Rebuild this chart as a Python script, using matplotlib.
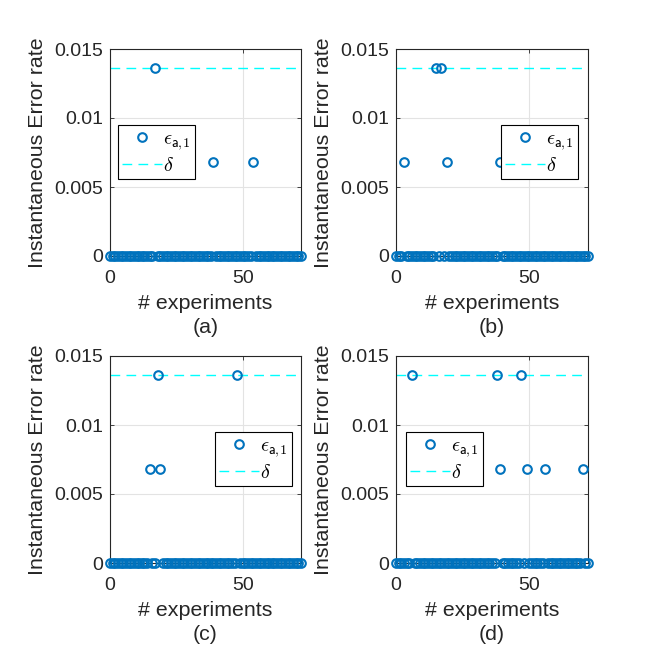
import numpy as np
import matplotlib
matplotlib.use('Agg')
import matplotlib.pyplot as plt

plt.rcParams['font.family'] = ['Liberation Sans', 'DejaVu Sans']
plt.rcParams['mathtext.fontset'] = 'cm'

# Experiment index (x values) and threshold
n_experiments = 72
delta = 0.0136

# Nonzero error rates; all other experiments are 0
a_idx = [17, 39, 54]
a_val = [0.0136, 0.0068, 0.0068]
b_idx = [3, 15, 17, 19, 39]
b_val = [0.0068, 0.0136, 0.0136, 0.0068, 0.0068]
c_idx = [15, 18, 19, 48]
c_val = [0.0068, 0.0136, 0.0068, 0.0136]
d_idx = [6, 38, 39, 47, 49, 56, 70]
d_val = [0.0136, 0.0136, 0.0068, 0.0136, 0.0068, 0.0068, 0.0068]

panels = [
    ('(a)', a_idx, a_val, (0.042, 0.633)),
    ('(b)', b_idx, b_val, (0.547, 0.633)),
    ('(c)', c_idx, c_val, (0.550, 0.633)),
    ('(d)', d_idx, d_val, (0.052, 0.633)),
]

W, H = 651, 649
fig = plt.figure(figsize=(W / 100, H / 100), dpi=100)
positions = [
    (110 / W, 1 - 256 / H, 191 / W, 207 / H),
    (396 / W, 1 - 256 / H, 192 / W, 207 / H),
    (110 / W, 1 - 563 / H, 191 / W, 207 / H),
    (396 / W, 1 - 563 / H, 192 / W, 207 / H),
]

text_color = '#262626'
blue = '#0072BD'

for (tag, idx, val, leg_pos), pos in zip(panels, positions):
    ax = fig.add_axes(pos)
    x = np.arange(0, n_experiments + 1)
    y = np.zeros(len(x))
    y[idx] = val

    ax.plot(x, y, 'o', linestyle='none', markerfacecolor='none',
            markeredgecolor=blue, markersize=6.2, markeredgewidth=1.5,
            clip_on=False, zorder=3, label=r'$\epsilon_{\mathsf{a,\!1}}$')
    ax.axhline(delta, color='#00FFFF', linewidth=1.0, dashes=(7, 4.5),
               zorder=2, label=r'$\delta$')

    ax.set_xlim(0, n_experiments)
    ax.set_ylim(0, 0.015)
    ax.set_xticks([0, 50])
    ax.set_yticks([0, 0.005, 0.01, 0.015])
    ax.set_yticklabels(['0', '0.005', '0.01', '0.015'])
    ax.grid(True, color='#e3e3e3', linewidth=0.8)
    ax.set_axisbelow(True)
    ax.tick_params(direction='in', length=3, width=0.6, labelsize=14,
                   colors=text_color, top=True, right=True)
    ax.tick_params(axis='x', pad=10)
    ax.tick_params(axis='y', pad=5)
    for sp in ax.spines.values():
        sp.set_color(text_color)
        sp.set_linewidth(0.8)

    ax.set_xlabel('# experiments\n' + tag, fontsize=15.4, color=text_color,
                  labelpad=5, linespacing=1.35)
    ax.set_ylabel('Instantaneous Error rate', fontsize=15.4, color=text_color,
                  labelpad=5)

    leg = ax.legend(loc='upper left', bbox_to_anchor=leg_pos, fontsize=14.5,
                    frameon=True, fancybox=False, framealpha=1,
                    edgecolor='black', handlelength=2.0, handletextpad=0.05,
                    borderpad=0.2, labelspacing=0.2, borderaxespad=0)
    leg.get_frame().set_linewidth(0.8)

plt.savefig('out.png', dpi=100)
